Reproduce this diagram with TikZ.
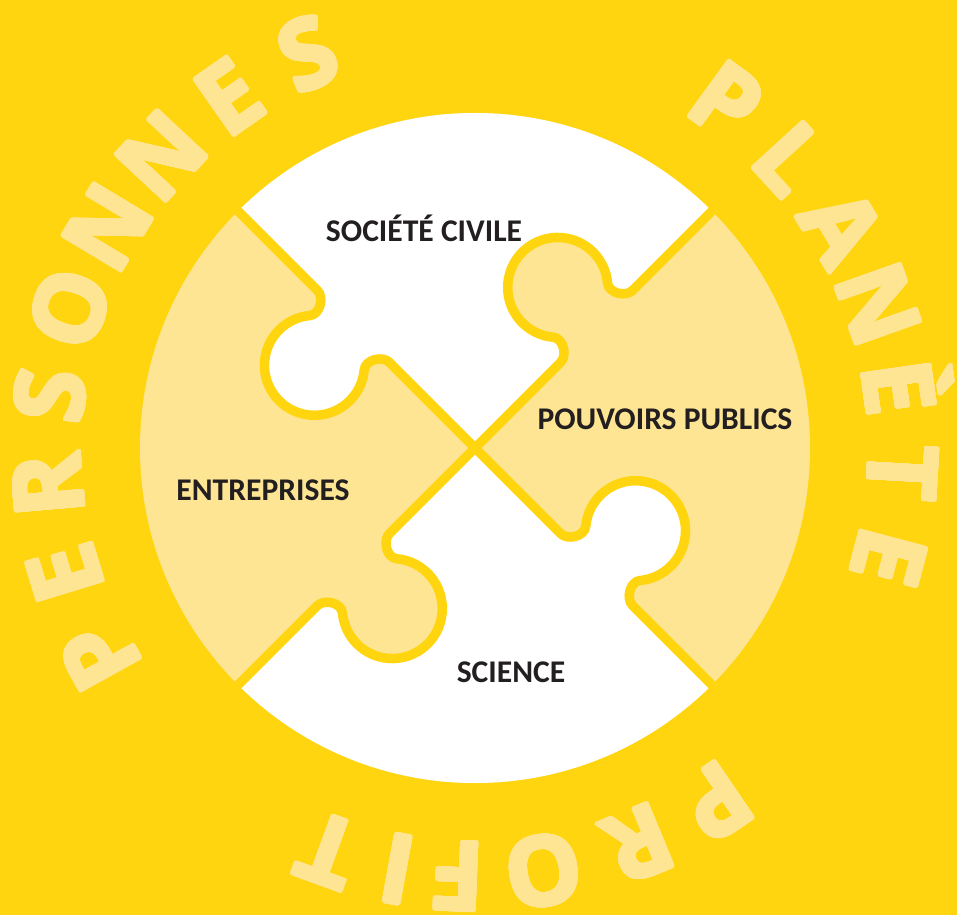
\documentclass[tikz,border=0pt]{standalone}
\usepackage{fontspec}
\usepackage{contour}
\setmainfont{Carlito}
\newfontfamily\ringfont{Open Sans}
\contourlength{1.7pt}
\contournumber{24}
\usetikzlibrary{positioning}

\definecolor{bgyellow}{HTML}{FFD50F}
\definecolor{paleyellow}{HTML}{FEE594}
\definecolor{labelgrey}{HTML}{231F20}

\newcommand{\heavy}[1]{\contour{paleyellow}{#1}}

\tikzset{
  piecelabel/.style={font=\bfseries\fontsize{31.6}{36}\selectfont, text=labelgrey, anchor=base, inner sep=0pt},
  ringletter/.style={font=\ringfont\bfseries\fontsize{96}{100}\selectfont, text=paleyellow, anchor=base, inner sep=0pt},
  joint/.style={draw=bgyellow, line width=9.5pt, line join=round},
  knob/.style={insert path={-- (121,0) .. controls (131,0) and (140,15) .. (133.7,22.9)
      arc[start angle=220, end angle=-40, radius=50]
      .. controls (204,15) and (213,0) .. (223,0)}},
}

\begin{document}
\begin{tikzpicture}[x=1pt,y=1pt]
  % background
  \fill[bgyellow] (-475,-467) rectangle (482,448);
  \useasboundingbox (-475,-467) rectangle (482,448);

  % pieces
  \fill[paleyellow] (0,0) circle[radius=335];
  \fill[white] (0,0) -- (45:335) arc[start angle=45, end angle=135, radius=335] -- cycle;
  \fill[white] (0,0) -- (225:335) arc[start angle=225, end angle=315, radius=335] -- cycle;

  % joints with knobs
  \foreach \ang/\col in {45/paleyellow, 135/white, 225/paleyellow, 315/white}{
    \fill[\col, rotate=\ang] (121,-4) [knob] -- (223,-4) -- cycle;
    \draw[joint, rotate=\ang] (0,0) [knob] -- (345,0);
  }

  % labels
  \node[piecelabel] (civile) at (-51,206) {SOCIÉTÉ CIVILE};
  \node[piecelabel] (pouvoirs) at (190,18) {POUVOIRS PUBLICS};
  \node[piecelabel] (entreprises) at (-212,-52) {ENTREPRISES};
  \node[piecelabel] (science) at (36,-234) {SCIENCE};

  % ring
  \foreach \ch/\ang [count=\i] in {P/209, E/197, R/185, S/173, O/161, N/149, N/137, E/125, S/113}
    \node[ringletter, rotate=\ang-90] (pers\i) at (\ang:394) {\heavy{\ch}};
  \foreach \ch/\ang [count=\i] in {P/54, L/42.5, A/31, N/19.6, È/8.1, T/-3.3, E/-14.8}
    \node[ringletter, rotate=\ang-90] (plan\i) at (\ang:394) {\heavy{\ch}};
  \foreach \ch/\ang [count=\i] in {P/-55.7, R/-67.5, O/-80.8, F/-92.3, I/-100.4, T/-110}
    \node[ringletter, rotate=\ang-90] (prof\i) at (\ang:394) {\heavy{\ch}};
\end{tikzpicture}
\end{document}
